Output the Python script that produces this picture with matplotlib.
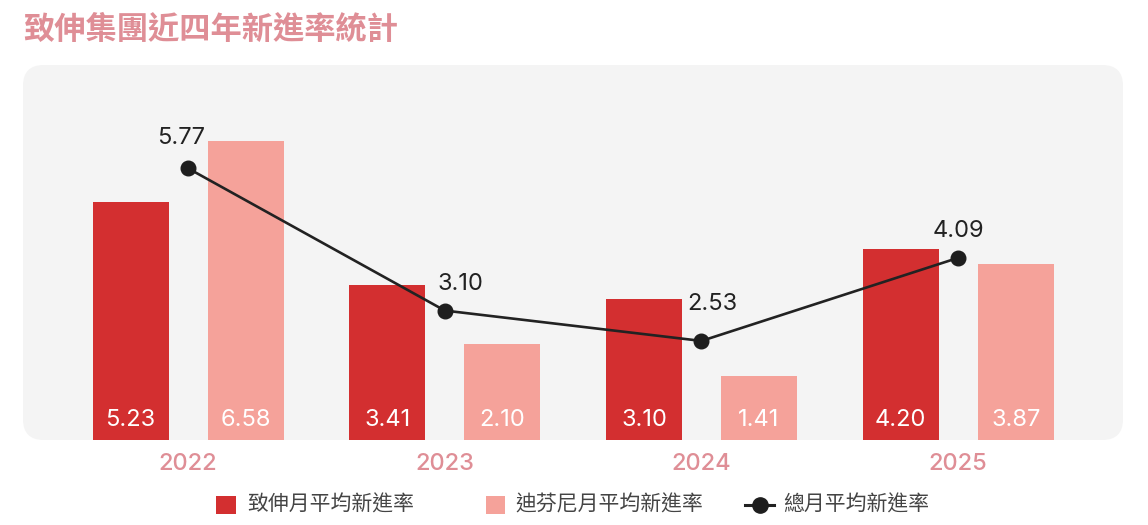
import matplotlib
matplotlib.use("Agg")
import matplotlib.pyplot as plt
from matplotlib.patches import FancyBboxPatch, Rectangle
from matplotlib.lines import Line2D
import numpy as np

years = ["2022", "2023", "2024", "2025"]
zhishen = [5.23, 3.41, 3.10, 4.20]
disfney = [6.58, 2.10, 1.41, 3.87]
total = [5.77, 3.10, 2.53, 4.09]
title = "致伸集團近四年新進率統計"
legend_labels = ["致伸月平均新進率", "迪芬尼月平均新進率", "總月平均新進率"]

# label offsets (points) for the line value labels
label_dx = [-5, 11, 8, 0]
label_dy = [22, 19, 26.5, 19]

RED = "#d32f30"
PINK = "#f5a29a"
TITLE_C = "#df8e96"
DARK = "#222222"
CJK = ["Noto Sans CJK TC", "DejaVu Sans"]
NUM = ["Inter", "DejaVu Sans"]

W, H = 1148, 525
fig = plt.figure(figsize=(W / 100, H / 100), dpi=100)
fig.patch.set_facecolor("white")

def fx(px):
    return px / W

def fy(py):
    return 1 - py / H

# panel background
px_l, px_r, px_t, px_b = 23, 1123, 65, 440
panel = FancyBboxPatch((fx(px_l), fy(px_b)), (px_r - px_l) / W, (px_b - px_t) / H,
                       boxstyle="round,pad=0,rounding_size=0.018",
                       transform=fig.transFigure, facecolor="#f4f4f4",
                       edgecolor="none", zorder=-10, mutation_aspect=W / H)
fig.patches.append(panel)

ax = fig.add_axes([fx(px_l), fy(px_b), (px_r - px_l) / W, (px_b - px_t) / H])
ax.set_zorder(1)
ax.patch.set_alpha(0)
for s in ax.spines.values():
    s.set_visible(False)

x = np.arange(len(years))
bw = 0.296
off = 0.224
ax.bar(x - off, zhishen, bw, color=RED, zorder=2)
ax.bar(x + off, disfney, bw, color=PINK, zorder=2)
ax.set_xlim(-0.643, 3.642)
ax.set_ylim(0, 8.24)
ax.set_yticks([])
ax.set_xticks(x)
ax.set_xticklabels(years, fontsize=17, color=TITLE_C, family=NUM, fontweight="medium")
ax.tick_params(axis="x", length=0, pad=9.5)

for xi, v in zip(x - off, zhishen):
    ax.text(xi, 0.45, f"{v:.2f}", ha="center", va="center", color="white",
            fontsize=17, family=NUM, zorder=3)
for xi, v in zip(x + off, disfney):
    ax.text(xi, 0.45, f"{v:.2f}", ha="center", va="center", color="white",
            fontsize=17, family=NUM, zorder=3)

ax2 = ax.twinx()
ax2.set_ylim(0.67, 7.71)
ax2.set_yticks([])
for s in ax2.spines.values():
    s.set_visible(False)
ax2.plot(x, total, color=DARK, lw=1.9, marker="o", markersize=10.5,
         markerfacecolor="#1e1e1e", markeredgecolor="#1e1e1e", zorder=4)
for xi, v, dx, dy in zip(x, total, label_dx, label_dy):
    ax2.annotate(f"{v:.2f}", (xi, v), xytext=(dx, dy), textcoords="offset points",
                 ha="center", va="center", fontsize=17, color=DARK, family=NUM)

fig.text(fx(23), fy(30), title, fontsize=22.5, fontweight="bold", color=TITLE_C,
         family=CJK, ha="left", va="center")

# legend (drawn manually to follow the reference spacing)
ly = 505
LEG_FS = 15
LEG_C = "#444444"
fig.patches.append(Rectangle((fx(216), fy(514)), 20 / W, 18 / H, transform=fig.transFigure,
                             facecolor=RED, edgecolor="none"))
fig.text(fx(247), fy(ly), legend_labels[0], fontsize=LEG_FS, color=LEG_C,
         family=CJK, ha="left", va="center")
fig.patches.append(Rectangle((fx(486), fy(514)), 19 / W, 18 / H, transform=fig.transFigure,
                             facecolor=PINK, edgecolor="none"))
fig.text(fx(515), fy(ly), legend_labels[1], fontsize=LEG_FS, color=LEG_C,
         family=CJK, ha="left", va="center")
fig.lines.append(Line2D([fx(745), fx(774)], [fy(ly), fy(ly)], transform=fig.transFigure,
                        color=DARK, lw=2.2))
fig.lines.append(Line2D([fx(759.5)], [fy(ly)], transform=fig.transFigure, marker="o",
                        markersize=11, color="#1e1e1e", lw=0))
fig.text(fx(783), fy(ly), legend_labels[2], fontsize=LEG_FS, color=LEG_C,
         family=CJK, ha="left", va="center")

fig.savefig("out.png", dpi=100, facecolor="white")
